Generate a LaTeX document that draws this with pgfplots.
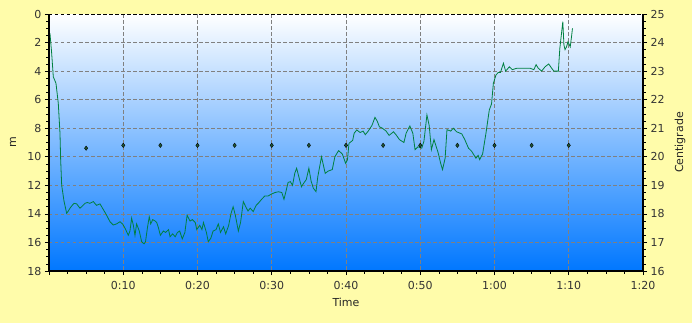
\documentclass[border=0pt]{standalone}
\usepackage{pgfplots}
\pgfplotsset{compat=1.18}
\usepackage{fontspec}
\setmainfont{DejaVu Sans}
\definecolor{bgyellow}{RGB}{255,252,170}
\definecolor{plotblue}{RGB}{0,119,255}
\definecolor{divegreen}{RGB}{0,128,64}
\definecolor{dotgreen}{RGB}{30,90,55}
\begin{document}
\begin{tikzpicture}
\fill[bgyellow, use as bounding box] (-49pt,-52pt) rectangle (643pt,271pt);
\begin{axis}[
  scale only axis, width=594pt, height=257pt,
  at={(0pt,0pt)}, anchor=south west,
  xmin=0, xmax=80, ymin=0, ymax=18, y dir=reverse,
  axis x line*=bottom, axis y line*=left,
  axis line style={draw=none},
  axis background/.style={top color=white, bottom color=plotblue},
  xtick={0,10,...,80},
  xticklabels={,0:10,0:20,0:30,0:40,0:50,1:00,1:10,1:20},
  ytick={0,2,...,18},
  minor x tick num=3, minor y tick num=3,
  tick align=outside,
  major tick length=4pt, minor tick length=2.5pt,
  tick style={black, line width=0.6pt},
  grid=major,
  major grid style={gray, dash pattern=on 3.5pt off 2.5pt, line width=0.6pt},
  /pgf/number format/assume math mode=true,
  tick label style={font=\fontsize{11}{13}\selectfont, text=black!80},
  xticklabel style={yshift=-2.5pt},
  label style={font=\fontsize{11}{13}\selectfont, text=black!85},
  xlabel={Time}, ylabel={m},
  xlabel style={at={(axis description cs:0.5,-0.1233)}, anchor=center},
  ylabel style={at={(axis description cs:-0.0606,0.5)}, anchor=center},
  clip=false,
]
\addplot[divegreen, line width=0.8pt] coordinates {
(0.13,1.35) (0.36,2.75) (0.58,4.4) (0.94,4.85) (1.25,6.25) (1.48,8.35) (1.57,10.2)
(1.71,12.0) (2.02,13.1) (2.38,13.96) (2.6,13.8) (2.83,13.6) (3.05,13.45) (3.37,13.26)
(3.73,13.3) (4.17,13.6) (4.4,13.5) (4.85,13.26) (5.17,13.2) (5.5,13.26) (5.97,13.14)
(6.4,13.4) (6.87,13.3) (7.32,13.7) (7.77,14.1) (8.21,14.55) (8.66,14.78) (9.1,14.7)
(9.56,14.55) (9.9,14.7) (10.24,15.0) (10.68,15.5) (10.9,15.2) (11.13,14.3) (11.36,14.8)
(11.58,15.5) (11.8,14.7) (12.16,15.2) (12.48,15.95) (12.8,16.1) (13.0,15.95) (13.25,15.0)
(13.5,14.2) (13.7,14.7) (13.97,14.4) (14.3,14.5) (14.5,14.6) (14.7,14.9) (15.0,15.5)
(15.4,15.2) (15.7,15.3) (16.1,15.1) (16.3,15.6) (16.65,15.4) (17.0,15.6) (17.3,15.3)
(17.6,15.2) (17.95,15.75) (18.3,15.3) (18.6,14.1) (19.0,14.5) (19.3,14.4) (19.7,14.6)
(19.9,15.1) (20.3,14.8) (20.6,15.1) (20.8,14.6) (21.2,15.3) (21.45,15.95) (21.8,15.7)
(22.1,15.2) (22.5,15.1) (22.8,14.7) (23.1,15.3) (23.5,14.9) (23.8,15.4) (24.2,14.8)
(24.5,14.0) (24.8,13.5) (25.1,14.1) (25.5,15.2) (25.8,14.6) (26.17,13.14) (26.5,13.5)
(26.8,13.8) (27.1,13.6) (27.5,13.84) (27.9,13.4) (28.2,13.25) (28.6,13.0) (29.05,12.75)
(29.5,12.75) (30.0,12.6) (30.46,12.5) (30.9,12.45) (31.35,12.5) (31.65,12.98) (31.9,12.45)
(32.2,11.8) (32.5,11.74) (32.8,12.0) (33.1,11.16) (33.35,10.8) (33.6,11.3) (34.0,12.1)
(34.3,11.85) (34.65,11.6) (35.0,10.8) (35.3,11.7) (35.6,12.2) (35.96,12.44) (36.2,11.4)
(36.7,10.0) (37.2,11.16) (37.6,11.0) (38.15,10.9) (38.5,10.0) (39.0,9.57) (39.5,9.8)
(39.95,10.46) (40.2,10.2) (40.4,9.06) (40.9,8.85) (41.1,8.35) (41.45,8.12) (41.9,8.3)
(42.3,8.2) (42.6,8.45) (43.0,8.2) (43.5,7.8) (43.9,7.24) (44.2,7.5) (44.5,7.9)
(44.9,8.0) (45.4,8.2) (45.8,8.5) (46.4,8.25) (46.8,8.5) (47.2,8.8) (47.8,9.0)
(48.1,8.35) (48.6,7.84) (49.0,8.35) (49.3,9.5) (49.7,9.3) (50.2,9.4) (50.5,8.9)
(50.9,7.07) (51.2,7.8) (51.5,9.5) (51.85,8.8) (52.4,9.7) (52.75,10.46) (53.0,10.9)
(53.35,10.1) (53.6,8.1) (54.1,8.2) (54.45,8.0) (54.9,8.25) (55.6,8.4) (56.0,8.8)
(56.5,9.4) (56.9,9.6) (57.5,10.1) (57.8,9.9) (58.0,10.2) (58.4,9.8) (58.85,8.35)
(59.3,6.72) (59.6,6.3) (59.85,4.85) (60.2,4.27) (60.5,4.1) (60.8,4.1) (61.2,3.45)
(61.5,4.0) (62.0,3.7) (62.4,3.9) (63.0,3.8) (63.9,3.8) (64.8,3.8) (65.3,3.9)
(65.6,3.55) (65.9,3.8) (66.35,4.0) (66.8,3.7) (67.3,3.5) (67.7,3.8) (68.0,4.0)
(68.6,4.0) (68.8,2.4) (69.05,1.24) (69.2,0.54) (69.35,2.17) (69.5,2.5) (69.7,2.3)
(69.9,1.94) (70.2,2.3) (70.4,1.47) (70.5,1.0)
};
\draw[black, dash pattern=on 3.5pt off 2.5pt, line width=0.7pt] (rel axis cs:0,1) -- (rel axis cs:1,1);
\draw[black, line width=2.2pt] (rel axis cs:0,1) -- (rel axis cs:0,0) -- (rel axis cs:1,0) -- (rel axis cs:1,1);
\end{axis}
\begin{axis}[
  scale only axis, width=594pt, height=257pt,
  at={(0pt,0pt)}, anchor=south west,
  xmin=0, xmax=80, ymin=16, ymax=25,
  axis x line=none, axis y line*=right,
  axis line style={draw=none},
  ytick={16,17,...,25},
  minor y tick num=3,
  tick align=outside,
  major tick length=4pt, minor tick length=2.5pt,
  tick style={black, line width=0.6pt},
  /pgf/number format/assume math mode=true,
  tick label style={font=\fontsize{11}{13}\selectfont, text=black!80},
  label style={font=\fontsize{11}{13}\selectfont, text=black!85},
  ylabel={Centigrade},
  ylabel style={at={(axis description cs:1.0623,0.5)}, anchor=center},
]
\addplot[only marks, mark=diamond*, mark size=2.2pt, mark options={fill=dotgreen, draw=black, line width=0.4pt}] coordinates {
(5,20.3) (10,20.4) (15,20.4) (20,20.4) (25,20.4) (30,20.4) (35,20.4)
(40,20.4) (45,20.4) (50,20.4) (55,20.4) (60,20.4) (65,20.4) (70,20.4)
};
\end{axis}
\end{tikzpicture}
\end{document}
